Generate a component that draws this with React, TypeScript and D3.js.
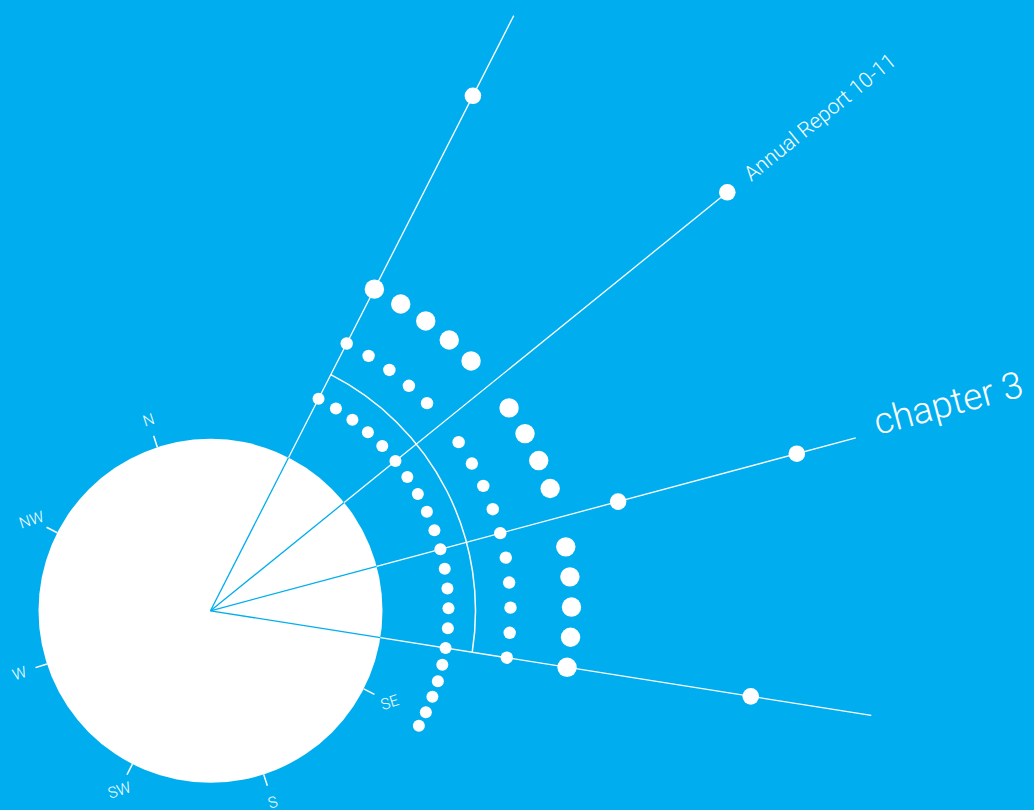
import React from "react";
import * as d3 from "d3";

const WIDTH = 1034;
const HEIGHT = 810;
const BLUE = "#00aeef";
const WHITE = "#ffffff";

// compass disc (north is turned 18deg to the left)
const compassRotation = -18;
const compassLabels = ["N", "SE", "S", "SW", "W", "NW"];
const compassBearings = [0, 135, 180, 225, 270, 315];

// rays, angles in degrees counter-clockwise from east
const rayAngles = [63, 39, 15, -9];
const rayLengths = [668, 665, 668, 669];

// single markers on the rays
const markerRay = [0, 1, 2, 2, 3];
const markerDistance = [578, 665, 422, 607, 547];

// three arcs of dots
const innerArcAngles = [
  63, 58.2, 53.4, 48.6, 43.8, 39, 34.2, 29.4, 24.6, 19.8, 15, 10.2, 5.4, 0.6,
  -4.2, -9, -13.1, -17.2, -21.2, -25.2, -28.9,
];
const middleArcAngles = [
  63, 58.2, 53.4, 48.6, 43.8, 34.2, 29.4, 24.6, 19.8, 15, 10.2, 5.4, 0.6, -4.2,
  -9,
];
const outerArcAngles = [
  63, 58.2, 53.4, 48.6, 43.8, 34.2, 29.4, 24.6, 19.8, 10.2, 5.4, 0.6, -4.2, -9,
];
const arcRadius = [238, 300, 361];
const arcDotSize = [6, 6.2, 9.7];

// guide arc between the first and last ray
const guideRadius = 265;
const discRadius = 172;

// titles that sit at the end of a ray
const titleText = ["Annual Report 10-11", "chapter 3"];
const titleRay = [1, 2];

export default function App() {
  const cx = 210.5;
  const cy = 610.8;

  const dist = d3.scaleLinear().domain([0, 700]).range([0, 700]);
  // math angle in degrees -> d3 radial angle (clockwise from 12 o'clock)
  const angle = d3.scaleLinear().domain([0, 90]).range([Math.PI / 2, 0]);
  const bearing = (b: number) => ((b + compassRotation) * Math.PI) / 180;

  const pt = (deg: number, r: number) => {
    const [x, y] = d3.pointRadial(angle(deg), dist(r));
    return [cx + x, cy + y];
  };

  const arcs = [innerArcAngles, middleArcAngles, outerArcAngles];

  const guide = d3.path();
  guide.arc(
    cx,
    cy,
    dist(guideRadius),
    (-rayAngles[0] * Math.PI) / 180,
    (-rayAngles[rayAngles.length - 1] * Math.PI) / 180,
    false
  );

  const fontFamily = "Roboto, 'Liberation Sans', Arial, sans-serif";

  return (
    <svg
      width={WIDTH}
      height={HEIGHT}
      style={{ position: "absolute", left: 0, top: 0, display: "block" }}
    >
      <rect width={WIDTH} height={HEIGHT} fill={BLUE} />
      <circle cx={cx} cy={cy} r={dist(discRadius)} fill={WHITE} />

      {/* compass ticks and labels */}
      {compassLabels.map((lab, i) => {
        const a = bearing(compassBearings[i]);
        const [x1, y1] = d3.pointRadial(a, dist(discRadius));
        const [x2, y2] = d3.pointRadial(a, dist(discRadius + 12));
        const [lx, ly] = d3.pointRadial(a, dist(discRadius + 29));
        return (
          <g key={lab}>
            <line
              x1={cx + x1}
              y1={cy + y1}
              x2={cx + x2}
              y2={cy + y2}
              stroke={WHITE}
              strokeWidth={1.5}
            />
            <text
              transform={`translate(${cx + lx},${cy + ly}) rotate(${compassRotation})`}
              textAnchor="middle"
              dy="0.36em"
              fill={WHITE}
              fontFamily={fontFamily}
              fontWeight={300}
              fontSize={15.5}
            >
              {lab}
            </text>
          </g>
        );
      })}

      {/* rays: blue on the disc, white outside */}
      {rayAngles.map((deg, i) => {
        const [x0, y0] = pt(deg, 0);
        const [x1, y1] = pt(deg, discRadius);
        const [x2, y2] = pt(deg, rayLengths[i]);
        return (
          <g key={i}>
            <line x1={x0} y1={y0} x2={x1} y2={y1} stroke={BLUE} strokeWidth={1.3} />
            <line x1={x1} y1={y1} x2={x2} y2={y2} stroke={WHITE} strokeWidth={1.3} />
          </g>
        );
      })}

      <path d={guide.toString()} fill="none" stroke={WHITE} strokeWidth={1.5} />

      {/* dot arcs */}
      {arcs.map((angles, k) =>
        angles.map((deg, j) => {
          const [x, y] = pt(deg, arcRadius[k]);
          return <circle key={`${k}-${j}`} cx={x} cy={y} r={arcDotSize[k]} fill={WHITE} />;
        })
      )}

      {/* markers on rays */}
      {markerRay.map((ri, i) => {
        const [x, y] = pt(rayAngles[ri], markerDistance[i]);
        return <circle key={`m${i}`} cx={x} cy={y} r={8.3} fill={WHITE} />;
      })}

      {/* titles */}
      {titleText.map((t, i) => {
        const deg = rayAngles[titleRay[i]];
        const [x, y] = pt(deg, 690);
        const big = i === 1;
        return (
          <text
            key={t}
            transform={`translate(${x},${y}) rotate(${-deg})`}
            y={big ? 3 : 7}
            fill={WHITE}
            fontFamily={fontFamily}
            fontWeight={300}
            fontSize={big ? 37 : 21}
          >
            {t}
          </text>
        );
      })}
    </svg>
  );
}
